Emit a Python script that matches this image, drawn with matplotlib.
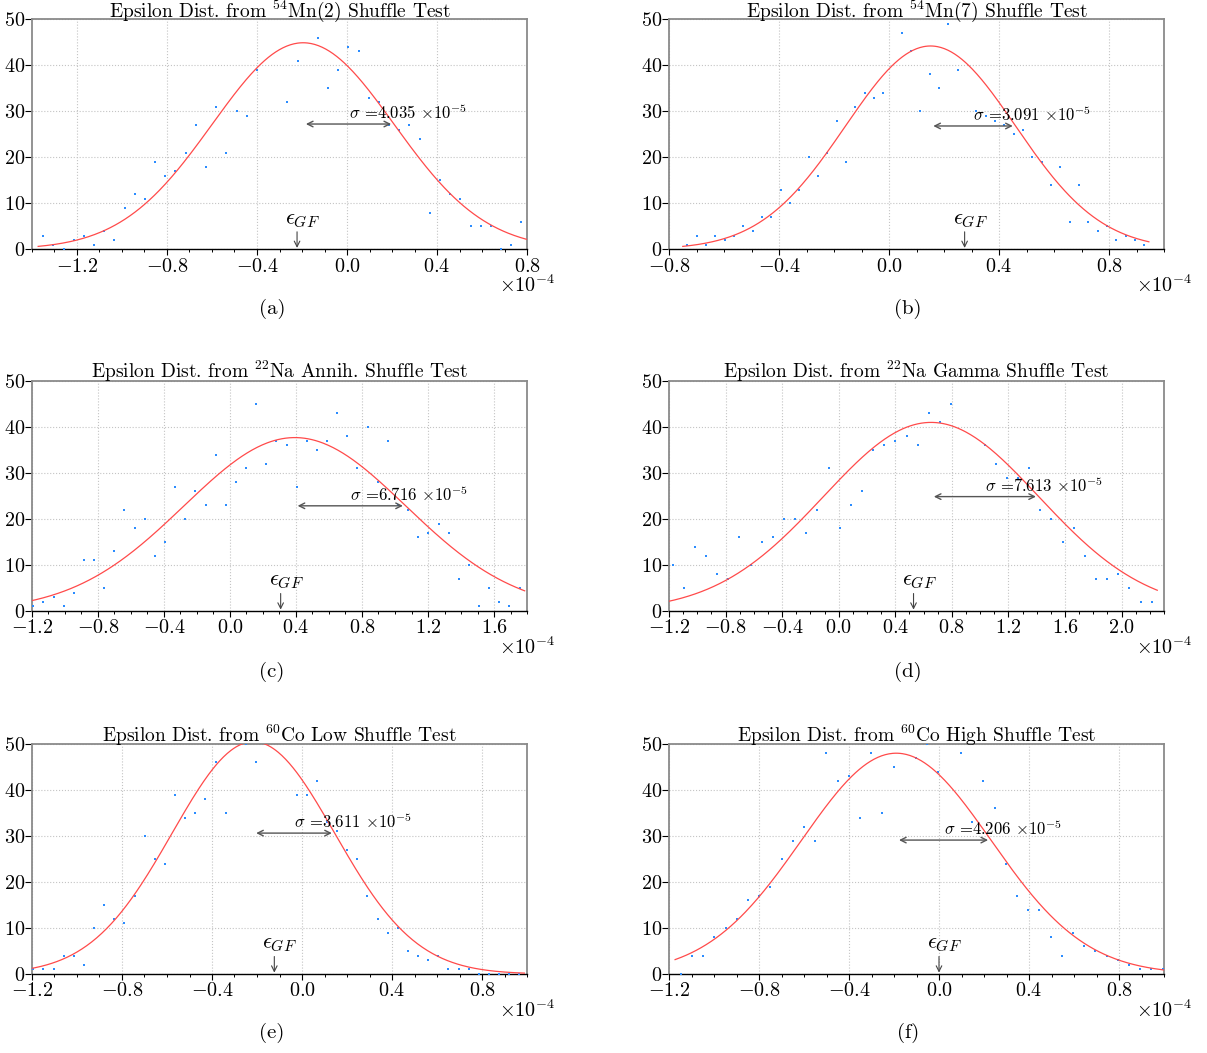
import numpy as np
import matplotlib
matplotlib.use("Agg")
import matplotlib.pyplot as plt
from matplotlib.ticker import MultipleLocator

plt.rcParams["font.family"] = "serif"
plt.rcParams["font.serif"] = ["cmr10"]
plt.rcParams["mathtext.fontset"] = "cm"
plt.rcParams["axes.formatter.use_mathtext"] = True

# bin centres (units of 1e-4) and counts for each shuffle test
x_a = np.linspace(-1.350, 0.775, 48)
n_a = [3, 1, 0, 2, 3, 1, 4, 2, 9, 12, 11, 19, 16, 17, 21, 27, 18, 31, 21, 30,
       29, 39, 52, 51, 32, 41, 53, 46, 35, 39, 44, 43, 33, 32, 27, 26, 27, 24, 8, 15,
       12, 11, 5, 5, 5, 0, 1, 6]

x_b = np.linspace(-0.733, 0.928, 50)
n_b = [1, 3, 1, 3, 2, 3, 5, 4, 7, 7, 13, 10, 13, 20, 16, 21, 28, 19, 31, 34,
       33, 34, 52, 47, 43, 30, 38, 35, 49, 39, 52, 30, 29, 28, 27, 25, 26, 20, 19, 14,
       18, 6, 14, 6, 4, 5, 2, 3, 2, 1]

x_c = np.linspace(-1.192, 1.755, 49)
n_c = [1, 2, 3, 1, 4, 11, 11, 5, 13, 22, 18, 20, 12, 15, 27, 20, 26, 23, 34, 23,
       28, 31, 45, 32, 37, 36, 27, 37, 35, 37, 43, 38, 31, 40, 28, 37, 23, 22, 16, 17,
       19, 17, 7, 10, 1, 5, 2, 1, 5]

x_d = np.linspace(-1.175, 2.213, 44)
n_d = [10, 5, 14, 12, 8, 7, 16, 10, 15, 16, 20, 20, 17, 22, 31, 18, 23, 26, 35, 36,
       37, 38, 36, 43, 41, 45, 52, 51, 36, 32, 29, 29, 31, 22, 20, 15, 18, 12, 7, 7,
       8, 5, 2, 2]

x_e = np.linspace(-1.194, 0.966, 49)
n_e = [1, 1, 1, 4, 4, 2, 10, 15, 12, 11, 17, 30, 25, 24, 39, 34, 35, 38, 46, 35,
       52, 50, 46, 53, 52, 51, 39, 39, 42, 33, 31, 27, 25, 17, 12, 9, 10, 5, 4, 3,
       4, 1, 1, 1, 0, 0, 0, 0, 0]

x_f = np.linspace(-1.148, 0.994, 44)
n_f = [0, 4, 4, 8, 10, 12, 16, 17, 19, 25, 29, 32, 29, 48, 42, 43, 34, 48, 35, 45,
       52, 47, 50, 44, 52, 48, 33, 42, 36, 24, 17, 14, 14, 8, 4, 9, 6, 5, 4, 3,
       2, 1, 1, 1]

# gaussian fit: amplitude, mean (1e-4), sigma (1e-5)
amps = [44.9, 44.2, 37.7, 41.0, 50.5, 48.0]
means = [-0.195, 0.151, 0.393, 0.653, -0.216, -0.19]
sigmas = [4.035, 3.091, 6.716, 7.613, 3.611, 4.206]
eps_gf = [-0.222, 0.275, 0.307, 0.529, -0.123, 0.0]

titles = [r"Epsilon Dist. from $^{54}$Mn(2) Shuffle Test",
          r"Epsilon Dist. from $^{54}$Mn(7) Shuffle Test",
          r"Epsilon Dist. from $^{22}$Na Annih. Shuffle Test",
          r"Epsilon Dist. from $^{22}$Na Gamma Shuffle Test",
          r"Epsilon Dist. from $^{60}$Co Low Shuffle Test",
          r"Epsilon Dist. from $^{60}$Co High Shuffle Test"]
xlims = [(-1.4, 0.8), (-0.8, 1.0), (-1.2, 1.8), (-1.2, 2.3), (-1.2, 1.0), (-1.2, 1.0)]
letters = ["(a)", "(b)", "(c)", "(d)", "(e)", "(f)"]
xs = [x_a, x_b, x_c, x_d, x_e, x_f]
ns = [n_a, n_b, n_c, n_d, n_e, n_f]

W, H = 1207, 1053
fig = plt.figure(figsize=(W / 100, H / 100), dpi=100)
col_x = [32, 669]
row_bottom = [249.3, 611, 974]
aw, ah = 495, 230

for i in range(6):
    r, c = divmod(i, 2)
    ax = fig.add_axes([col_x[c] / W, 1 - row_bottom[r] / H, aw / W, ah / H])
    x = xs[i] * 1e-4
    A, mu, sg = amps[i], means[i] * 1e-4, sigmas[i] * 1e-5
    step = x[1] - x[0]

    ax.grid(True, which="major", ls=":", color="#c4c4c4", lw=0.8)
    ax.plot(x, ns[i], ls="none", marker="s", ms=1.9, mew=0, color="#2b8cff", zorder=3)
    xx = np.linspace(x[0] - step / 2, x[-1] + step / 2, 400)
    ax.plot(xx, A * np.exp(-(xx - mu) ** 2 / (2 * sg ** 2)), color="#ff4a4a", lw=0.9, zorder=4)

    # sigma marker drawn at the height of the curve one sigma from the mean
    ya = A * np.exp(-0.5)
    ax.annotate("", xy=(mu + sg, ya), xytext=(mu, ya),
                arrowprops=dict(arrowstyle="<->", color="#555555", lw=1.0), zorder=5)
    ax.text(mu + sg / 2, ya + 1.1, r"$\sigma$ =%.3f $\times$10$^{-5}$" % sigmas[i],
            fontsize=12, ha="left", va="baseline", zorder=6)

    # epsilon_GF marker: arrow down to the axis, label just above it
    e = eps_gf[i] * 1e-4
    ax.annotate("", xy=(e, 0), xytext=(e, 3.8),
                arrowprops=dict(arrowstyle="->", color="#444444", lw=0.8, shrinkA=0, shrinkB=1))
    ax.annotate(r"$\epsilon_{GF}$", xy=(e, 4.3), xytext=(4, 0), textcoords="offset points",
                ha="center", va="bottom", fontsize=16)

    ax.set_xlim(xlims[i][0] * 1e-4, xlims[i][1] * 1e-4)
    ax.set_ylim(0, 50)
    ax.xaxis.set_major_locator(MultipleLocator(0.4e-4))
    ax.xaxis.set_minor_locator(MultipleLocator(0.1e-4))
    ax.yaxis.set_major_locator(MultipleLocator(10))
    ax.ticklabel_format(axis="x", style="sci", scilimits=(-4, -4))
    ax.tick_params(axis="x", which="major", direction="out", length=4, width=0.8, labelsize=14.5, pad=2)
    ax.tick_params(axis="x", which="minor", direction="out", length=2.5, width=0.7)
    ax.tick_params(axis="y", which="major", direction="out", length=5, width=0.8, labelsize=14.5, pad=0)
    ax.xaxis.OFFSETTEXTPAD = -1
    ax.xaxis.get_offset_text().set_fontsize(14.5)
    ax.xaxis.get_offset_text().set_horizontalalignment("center")

    for side in ("top", "right", "left"):
        ax.spines[side].set_color("#8a8a8a")
        ax.spines[side].set_linewidth(1.3)
    ax.spines["bottom"].set_color("black")
    ax.spines["bottom"].set_linewidth(1.0)

    ax.set_title(titles[i], fontsize=14, y=1.0, pad=1.8)
    fig.text((272 if c == 0 else 908) / W, 1 - [309, 672, 1033][r] / H, letters[i],
             fontsize=15, ha="center", va="center")

fig.savefig("out.png", dpi=100)
